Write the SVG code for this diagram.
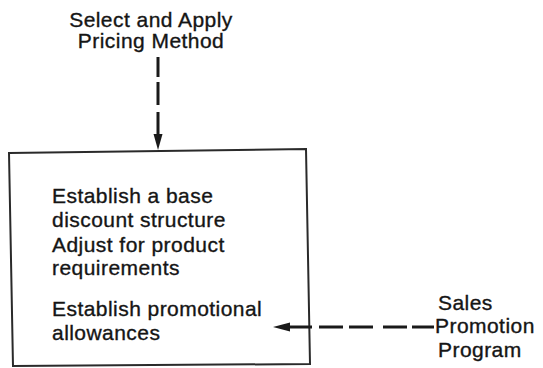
<svg xmlns="http://www.w3.org/2000/svg" width="543" height="368" viewBox="0 0 543 368">
  <style>
    .t { font-family: "Liberation Sans", Arial, sans-serif; font-size: 21px; letter-spacing: 0.45px; fill: #151515; stroke: #151515; stroke-width: 0.35px; }
    .box { fill: #ffffff; stroke: #2a2a2a; stroke-width: 2; }
    .conn { fill: none; stroke: #1a1a1a; stroke-width: 3; }
    .head { fill: #1a1a1a; }
  </style>
  <rect width="543" height="368" fill="#ffffff"/>
  <g id="pricing-method">
    <text class="t" x="151" y="27" text-anchor="middle">Select and Apply</text>
    <text class="t" x="151" y="48" text-anchor="middle">Pricing Method</text>
  </g>
  <g id="discount-box">
    <polygon class="box" points="9,153 306,149 310,364 13,366"/>
    <text class="t" x="52" y="203">Establish a base</text>
    <text class="t" x="52" y="227">discount structure</text>
    <text class="t" x="52" y="252">Adjust for product</text>
    <text class="t" x="52" y="275">requirements</text>
    <text class="t" x="52" y="316">Establish promotional</text>
    <text class="t" x="52" y="340">allowances</text>
  </g>
  <g id="sales-promotion">
    <text class="t" x="438" y="310">Sales</text>
    <text class="t" x="435" y="333">Promotion</text>
    <text class="t" x="438" y="357">Program</text>
  </g>
  <g id="connectors">
    <path class="conn" d="M158 57 V77 M158 82 V105 M158 112 V136"/>
    <polygon class="head" points="153.5,134 162.5,134 158,150"/>
    <path class="conn" d="M288 327 H312 M319 327 H343 M349 327 H373 M383 327 H407 M412 327 H434"/>
    <polygon class="head" points="290,322.5 290,331.5 273,327"/>
  </g>
</svg>
